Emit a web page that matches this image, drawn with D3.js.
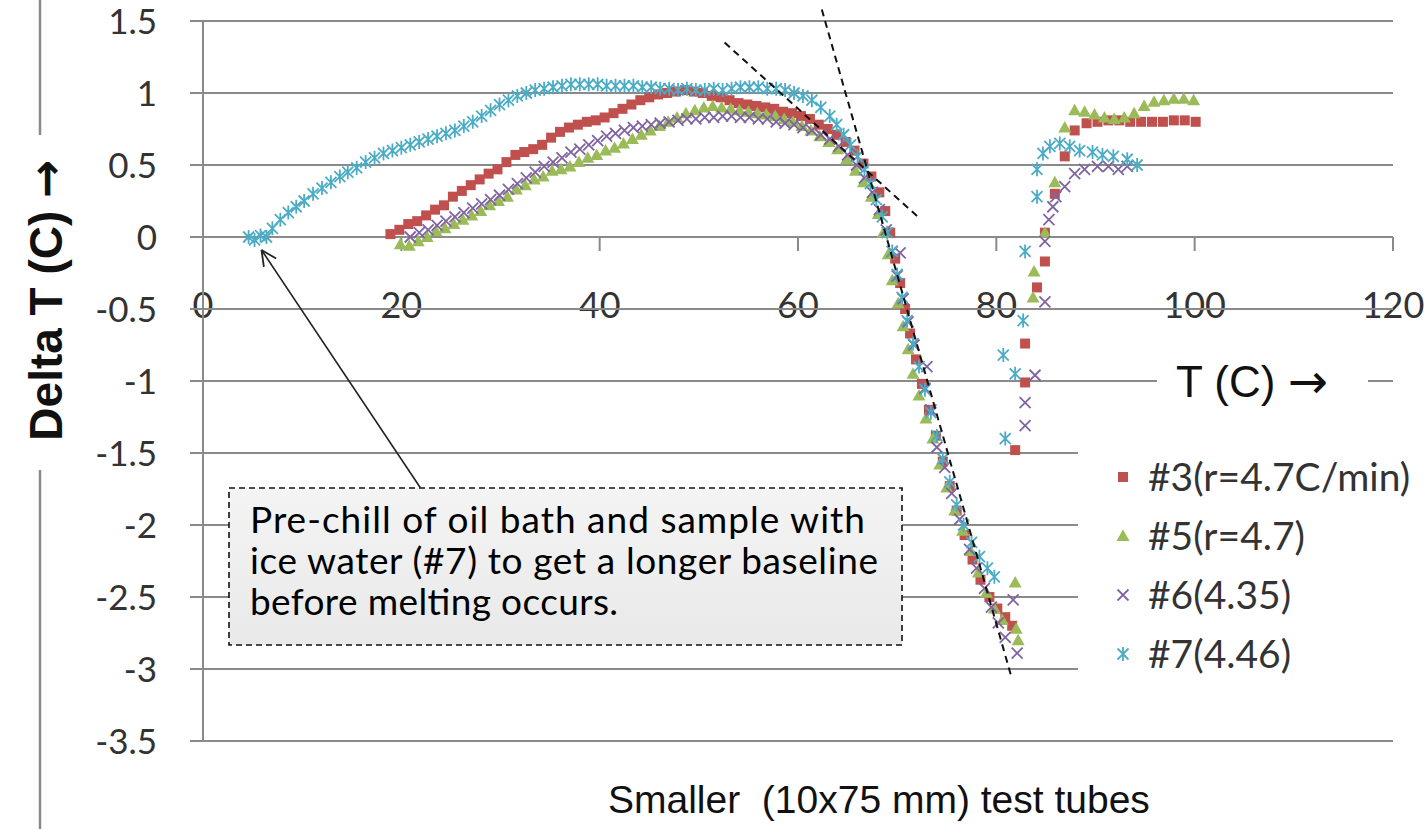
<!DOCTYPE html>
<html>
<head>
<meta charset="utf-8">
<script src="https://cdn.jsdelivr.net/npm/d3@7"></script>
<style>
body { margin: 0; background: #fff; }
svg { display: block; }
</style>
</head>
<body>
<svg id="chart" width="1427" height="829"></svg>
<script>
const GRID_COLOR = '#8a8a8a';
const TICK_FONT = 'Lato, "Open Sans", sans-serif';
const ARIAL_FONT = '"Liberation Sans", Arial, sans-serif';
const ARROW_FONT = '"DejaVu Sans", sans-serif';

var x_ticks = [0, 20, 40, 60, 80, 100, 120];
var y_ticks = [1.5, 1, 0.5, 0, -0.5, -1, -1.5, -2, -2.5, -3, -3.5];

var series_names = ['#3(r=4.7C/min)', '#5(r=4.7)', '#6(4.35)', '#7(4.46)'];
var series_colors = ['#C0504D', '#9BBB59', '#8064A2', '#4BACC6'];
var series_markers = ['square', 'triangle', 'x', 'star'];

// [T (C), delta T (C)]
var run3 = [
  [18.9,0.02],[19.8,0.05],[20.7,0.09],[21.6,0.11],[22.5,0.15],[23.4,0.19],[24.3,0.22],[25.2,0.28],
  [26.1,0.32],[27.0,0.36],[27.9,0.40],[28.8,0.44],[29.7,0.47],[30.6,0.52],[31.5,0.57],[32.4,0.59],
  [33.3,0.61],[34.2,0.64],[35.1,0.69],[36.0,0.73],[36.9,0.76],[37.8,0.78],[38.7,0.80],[39.6,0.81],
  [40.5,0.83],[41.4,0.86],[42.3,0.89],[43.2,0.92],[44.1,0.95],[45.0,0.97],[45.9,0.99],[46.8,1.00],
  [47.7,1.01],[48.6,1.02],[49.5,1.01],[50.4,1.00],[51.3,0.98],[52.2,0.97],[53.1,0.95],[54.0,0.93],
  [54.9,0.92],[55.8,0.91],[56.7,0.90],[57.6,0.89],[58.5,0.87],[59.4,0.86],[60.3,0.84],[61.2,0.82],
  [62.1,0.78],[63.0,0.75],[63.9,0.71],[64.8,0.66],[65.7,0.60],[66.6,0.51],[67.4,0.42],[68.2,0.31],
  [68.8,0.18],[69.3,0.03],[69.8,-0.15],[70.3,-0.32],[70.8,-0.50],[71.3,-0.67],[71.9,-0.85],[72.5,-1.02],
  [73.2,-1.20],[73.9,-1.38],[74.6,-1.56],[75.3,-1.73],[76.0,-1.90],[76.8,-2.07],[77.6,-2.24],[78.4,-2.38],
  [79.3,-2.50],[80.1,-2.58],[80.9,-2.64],[81.6,-2.70],
  [81.9,-1.48],[82.9,-1.01],[82.9,-0.74],[84.1,-0.35],[84.9,-0.17],[84.9,0.03],[85.9,0.30],[86.9,0.56],
  [87.9,0.74],[89.1,0.79],[90.2,0.80],[91.3,0.81],[92.4,0.81],[93.5,0.80],[94.6,0.80],[95.7,0.80],
  [96.8,0.80],[97.9,0.81],[99.0,0.81],[100.1,0.80]
];

var run5 = [
  [19.9,-0.05],[20.8,-0.06],[21.7,-0.03],[22.6,0.00],[23.5,0.04],[24.4,0.06],[25.3,0.09],[26.2,0.12],
  [27.1,0.15],[28.0,0.18],[28.9,0.22],[29.8,0.25],[30.7,0.28],[31.6,0.33],[32.5,0.36],[33.4,0.40],
  [34.3,0.42],[35.2,0.46],[36.1,0.47],[37.0,0.49],[37.9,0.52],[38.8,0.55],[39.7,0.57],[40.6,0.60],
  [41.5,0.62],[42.4,0.65],[43.3,0.68],[44.2,0.71],[45.1,0.74],[46.0,0.77],[46.9,0.80],[47.8,0.83],
  [48.7,0.86],[49.6,0.88],[50.5,0.90],[51.4,0.91],[52.3,0.90],[53.2,0.89],[54.1,0.88],[55.0,0.87],
  [55.9,0.86],[56.8,0.85],[57.7,0.84],[58.6,0.82],[59.5,0.80],[60.4,0.77],[61.3,0.74],[62.2,0.70],
  [63.1,0.66],[64.0,0.61],[64.9,0.54],[65.8,0.46],[66.6,0.38],[67.4,0.28],[68.1,0.16],[68.6,0.03],
  [69.1,-0.12],[69.5,-0.30],[70.1,-0.46],[70.6,-0.62],[71.1,-0.78],[71.6,-0.95],[72.2,-1.10],[72.9,-1.26],
  [73.6,-1.40],[74.3,-1.58],[75.0,-1.74],[75.8,-1.90],[76.6,-2.04],[77.4,-2.18],[78.2,-2.33],[79.0,-2.47],
  [79.8,-2.58],[80.6,-2.66],[81.9,-2.40],[82.0,-2.72],[82.2,-2.80],
  [83.7,-0.42],[83.8,-0.24],[84.9,0.03],[85.9,0.38],[86.9,0.76],[87.9,0.88],[88.9,0.87],[89.9,0.85],
  [90.9,0.83],[91.9,0.82],[92.9,0.83],[93.9,0.86],[94.9,0.91],[95.9,0.94],[96.9,0.95],[97.9,0.96],
  [98.9,0.96],[99.9,0.95]
];

var run6 = [
  [20.9,0.00],[21.8,0.03],[22.7,0.05],[23.6,0.08],[24.5,0.11],[25.4,0.14],[26.3,0.17],[27.2,0.20],
  [28.1,0.23],[29.0,0.26],[29.9,0.29],[30.8,0.33],[31.7,0.37],[32.6,0.41],[33.5,0.45],[34.4,0.49],
  [35.3,0.52],[36.2,0.55],[37.1,0.59],[38.0,0.61],[38.9,0.64],[39.8,0.67],[40.7,0.70],[41.6,0.72],
  [42.5,0.74],[43.4,0.76],[44.3,0.77],[45.2,0.78],[46.1,0.79],[47.0,0.80],[47.9,0.81],[48.8,0.82],
  [49.7,0.82],[50.6,0.83],[51.5,0.83],[52.4,0.84],[53.3,0.84],[54.2,0.83],[55.1,0.83],[56.0,0.82],
  [56.9,0.82],[57.8,0.80],[58.7,0.79],[59.6,0.78],[60.5,0.76],[61.4,0.74],[62.3,0.71],[63.2,0.68],
  [64.1,0.63],[65.0,0.57],[65.9,0.50],[66.7,0.41],[67.5,0.31],[68.2,0.19],[68.9,0.05],[69.5,-0.10],
  [70.3,-0.11],[70.0,-0.27],[70.6,-0.43],[71.1,-0.59],[71.7,-0.75],[73.0,-0.90],[72.8,-1.05],[73.4,-1.20],
  [74.0,-1.46],[74.8,-1.60],[75.5,-1.78],[76.3,-1.96],[77.3,-2.17],[78.0,-2.30],[78.8,-2.44],[79.5,-2.57],
  [80.2,-2.68],[80.9,-2.78],[81.7,-2.52],[82.1,-2.89],
  [82.9,-1.31],[82.9,-1.15],[83.9,-0.96],[84.9,-0.45],[84.9,-0.03],[85.3,0.12],[85.7,0.21],[86.0,0.28],
  [86.9,0.35],[87.9,0.44],[88.9,0.47],[90.2,0.49],[91.3,0.49],[92.3,0.47],[93.2,0.49]
];

var run7 = [
  [4.6,0.00],[5.2,-0.02],[5.8,0.01],[6.4,0.00],[7.0,0.06],[7.8,0.12],[8.6,0.17],[9.4,0.21],
  [10.2,0.25],[11.1,0.30],[12.0,0.34],[12.9,0.38],[13.8,0.42],[14.6,0.45],[15.5,0.48],[16.4,0.52],
  [17.3,0.55],[18.2,0.58],[19.1,0.60],[20.0,0.62],[20.9,0.64],[21.8,0.66],[22.7,0.68],[23.6,0.70],
  [24.5,0.72],[25.4,0.74],[26.3,0.77],[27.2,0.80],[28.1,0.84],[29.0,0.88],[29.9,0.92],[30.8,0.95],
  [31.7,0.98],[32.6,1.00],[33.5,1.02],[34.4,1.03],[35.3,1.04],[36.2,1.05],[37.1,1.06],[38.0,1.06],
  [38.9,1.06],[39.8,1.06],[40.7,1.05],[41.6,1.05],[42.5,1.05],[43.4,1.05],[44.3,1.04],[45.2,1.04],
  [46.1,1.03],[47.0,1.03],[47.9,1.02],[48.8,1.03],[49.7,1.02],[50.6,1.02],[51.5,1.03],[52.4,1.02],
  [53.3,1.03],[54.2,1.04],[55.1,1.04],[56.0,1.04],[56.9,1.03],[57.8,1.03],[58.7,1.02],[59.6,1.00],
  [60.5,0.98],[61.4,0.95],[62.3,0.90],[63.2,0.84],[63.9,0.78],[64.6,0.71],[65.3,0.64],[66.0,0.56],
  [66.7,0.47],[67.3,0.37],[67.9,0.26],[68.5,0.14],[69.0,0.03],[69.5,-0.10],[70.0,-0.26],[70.5,-0.42],
  [71.0,-0.58],[71.6,-0.74],[72.2,-0.90],[72.8,-1.06],[73.4,-1.22],[74.0,-1.38],[74.6,-1.54],[75.3,-1.70],
  [76.0,-1.86],[76.7,-2.00],[77.5,-2.12],[78.3,-2.22],[79.1,-2.30],[79.8,-2.36],
  [80.9,-1.40],[80.7,-0.82],[81.9,-0.95],[82.7,-0.58],[82.9,-0.10],[84.1,0.28],[84.1,0.47],[84.7,0.58],
  [85.4,0.63],[86.4,0.65],[87.4,0.63],[88.4,0.60],[89.7,0.59],[90.7,0.57],[91.8,0.56],[93.2,0.54],
  [94.2,0.50]
];

var all_runs = [run3, run5, run6, run7];

// hand drawn tangent lines
var fit_line_a = [[52.6, 1.35], [72.1, 0.14]];
var fit_line_b = [[62.4, 1.58], [81.5, -3.05]];

var note_lines = ['Pre-chill of oil bath and sample with',
                  'ice water (#7) to get a longer baseline',
                  'before melting occurs.'];
var note_widths = [615, 628, 368];
var note_arrow = [[21.9, -1.74], [5.9, -0.09]];

var svg = d3.select('#chart');

var x = d3.scaleLinear().domain([0, 120]).range([203, 1393]);
var y = d3.scaleLinear().domain([-3.5, 1.5]).range([741, 21]);

function marker_path(kind){
    if(kind === 'square'){
        return 'M-5,-5h10v10h-10z';
    } else if(kind === 'triangle'){
        return 'M0,-6.5L6.5,5L-6.5,5z';
    } else if(kind === 'x'){
        return 'M-5.5,-5.5L5.5,5.5M-5.5,5.5L5.5,-5.5';
    }
    // excel style asterisk: an x with a vertical bar
    return 'M-5.5,-5.5L5.5,5.5M-5.5,5.5L5.5,-5.5M0,-7V7';
}

function style_marker(sel, i){
    var kind = series_markers[i];
    if(kind === 'square' || kind === 'triangle'){
        sel.attr('fill', series_colors[i]).attr('stroke', 'none');
    } else {
        sel.attr('fill', 'none')
            .attr('stroke', series_colors[i])
            .attr('stroke-width', 1.8);
    }
}

// white page
svg.append('rect').attr('width', 1427).attr('height', 829).attr('fill', '#fff');

// x tick labels sit low, the -0.5 gridline runs through them
svg.append('g').selectAll('text')
    .data(x_ticks)
    .join('text')
    .attr('x', function(d){ return x(d); })
    .attr('y', 318)
    .attr('text-anchor', 'middle')
    .attr('font-family', TICK_FONT)
    .attr('font-size', 36)
    .attr('fill', '#333')
    .text(function(d){ return d; });

// horizontal gridlines (left end doubles as the y tick mark)
svg.append('g').selectAll('line')
    .data(y_ticks)
    .join('line')
    .attr('x1', 190)
    .attr('x2', x(120))
    .attr('y1', function(d){ return y(d); })
    .attr('y2', function(d){ return y(d); })
    .attr('stroke', GRID_COLOR)
    .attr('stroke-width', 2);

// y axis line
svg.append('line')
    .attr('x1', x(0)).attr('x2', x(0))
    .attr('y1', y(1.5)).attr('y2', y(-3.5))
    .attr('stroke', GRID_COLOR)
    .attr('stroke-width', 2);

// x tick marks hanging off the zero line
svg.append('g').selectAll('line')
    .data(x_ticks.slice(1))
    .join('line')
    .attr('x1', function(d){ return x(d); })
    .attr('x2', function(d){ return x(d); })
    .attr('y1', y(0))
    .attr('y2', y(0) + 14)
    .attr('stroke', GRID_COLOR)
    .attr('stroke-width', 2);

// y tick labels
svg.append('g').selectAll('text')
    .data(y_ticks)
    .join('text')
    .attr('x', 157)
    .attr('y', function(d){ return y(d); })
    .attr('dy', '0.36em')
    .attr('text-anchor', 'end')
    .attr('font-family', TICK_FONT)
    .attr('font-size', 35)
    .attr('fill', '#333')
    .text(function(d){ return d; });

// data markers, later series on top
var marks = svg.append('g').attr('class', 'runs');
all_runs.forEach(function(run, i){
    var g = marks.append('g');
    var pts = g.selectAll('path')
        .data(run)
        .join('path')
        .attr('d', marker_path(series_markers[i]))
        .attr('transform', function(d){ return 'translate(' + x(d[0]) + ',' + y(d[1]) + ')'; });
    style_marker(pts, i);
});

// dashed tangent lines
[fit_line_a, fit_line_b].forEach(function(fl){
    svg.append('line')
        .attr('x1', x(fl[0][0])).attr('y1', y(fl[0][1]))
        .attr('x2', x(fl[1][0])).attr('y2', y(fl[1][1]))
        .attr('stroke', '#111')
        .attr('stroke-width', 2)
        .attr('stroke-dasharray', '7,5');
});

// annotation box
var grad = svg.append('defs').append('linearGradient')
    .attr('id', 'note-fill')
    .attr('x1', 0).attr('y1', 0).attr('x2', 0).attr('y2', 1);
grad.append('stop').attr('offset', '0%').attr('stop-color', '#f4f4f4');
grad.append('stop').attr('offset', '100%').attr('stop-color', '#e9e9e9');

svg.append('rect')
    .attr('x', 229).attr('y', 488)
    .attr('width', 673).attr('height', 157)
    .attr('fill', 'url(#note-fill)')
    .attr('stroke', '#111')
    .attr('stroke-width', 1.6)
    .attr('stroke-dasharray', '6,4');

svg.append('g').selectAll('text')
    .data(note_lines)
    .join('text')
    .attr('x', 250)
    .attr('y', function(d, i){ return 533 + i * 41; })
    .attr('font-family', TICK_FONT)
    .attr('font-size', 37)
    .attr('fill', '#000')
    .attr('textLength', function(d, i){ return note_widths[i]; })
    .attr('lengthAdjust', 'spacing')
    .text(function(d){ return d; });

// arrow from the note to the start of run #7
var ax1 = x(note_arrow[0][0]), ay1 = y(note_arrow[0][1]);
var ax2 = x(note_arrow[1][0]), ay2 = y(note_arrow[1][1]);
var ang = Math.atan2(ay2 - ay1, ax2 - ax1);
svg.append('line')
    .attr('x1', ax1).attr('y1', ay1)
    .attr('x2', ax2).attr('y2', ay2)
    .attr('stroke', '#222')
    .attr('stroke-width', 1.6);
[-0.45, 0.45].forEach(function(da){
    svg.append('line')
        .attr('x1', ax2).attr('y1', ay2)
        .attr('x2', ax2 - 17 * Math.cos(ang + da))
        .attr('y2', ay2 - 17 * Math.sin(ang + da))
        .attr('stroke', '#222')
        .attr('stroke-width', 1.8);
});

// x axis title with a white patch over the gridline
svg.append('rect')
    .attr('x', 1157).attr('y', 352)
    .attr('width', 211).attr('height', 56)
    .attr('fill', '#fff');
var xt = svg.append('text')
    .attr('x', 1176)
    .attr('y', 397)
    .attr('font-family', ARIAL_FONT)
    .attr('font-size', 44)
    .attr('fill', '#111')
    .style('white-space', 'pre');
xt.append('tspan').text('T (C) ');
xt.append('tspan').attr('font-family', ARROW_FONT).attr('font-size', 48).attr('dy', 1).text('\u2192');

// legend
svg.append('rect')
    .attr('x', 1078).attr('y', 432)
    .attr('width', 349).attr('height', 258)
    .attr('fill', '#fff');
var legend = svg.append('g').selectAll('g')
    .data(series_names)
    .join('g')
    .attr('transform', function(d, i){ return 'translate(1123,' + (477 + i * 59) + ')'; });
legend.each(function(d, i){
    var mk = d3.select(this).append('path').attr('d', marker_path(series_markers[i]));
    style_marker(mk, i);
});
legend.append('text')
    .attr('x', 25)
    .attr('dy', '0.36em')
    .attr('font-family', TICK_FONT)
    .attr('font-size', 39)
    .attr('fill', '#333')
    .text(function(d){ return d; });

// y axis title sitting on a vertical rule
svg.append('line')
    .attr('x1', 40).attr('x2', 40)
    .attr('y1', 0).attr('y2', 829)
    .attr('stroke', GRID_COLOR)
    .attr('stroke-width', 2.5);
svg.append('rect')
    .attr('x', 15).attr('y', 135)
    .attr('width', 55).attr('height', 335)
    .attr('fill', '#fff');
var yt = svg.append('text')
    .attr('transform', 'translate(62,300) rotate(-90)')
    .attr('text-anchor', 'middle')
    .attr('font-family', ARIAL_FONT)
    .attr('font-weight', 'bold')
    .attr('font-size', 46)
    .attr('fill', '#111')
    .style('white-space', 'pre');
yt.append('tspan').text('Delta T (C) ');
yt.append('tspan').attr('font-family', ARROW_FONT).attr('font-weight', 'bold').attr('font-size', 46).text('\u2192');

// chart title at the bottom
svg.append('text')
    .attr('x', 608)
    .attr('y', 813)
    .attr('font-family', ARIAL_FONT)
    .attr('font-size', 39)
    .attr('fill', '#111')
    .style('white-space', 'pre')
    .text('Smaller  (10x75 mm) test tubes');
</script>
</body>
</html>
